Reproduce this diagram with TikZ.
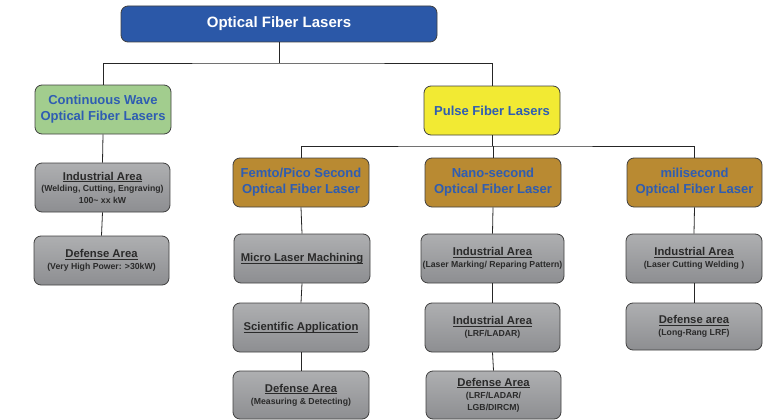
\documentclass[tikz,border=0pt]{standalone}
\usepackage{fontspec}
\setmainfont{Liberation Sans}
\definecolor{topblue}{HTML}{2B58A8}
\definecolor{cwgreen}{HTML}{A2CD8E}
\definecolor{pyellow}{HTML}{F2EA33}
\definecolor{gold}{HTML}{B98A32}
\definecolor{txtblue}{HTML}{2F5DB2}
\definecolor{edge}{HTML}{404040}
\definecolor{graytop}{HTML}{AEAFB1}
\definecolor{graybot}{HTML}{8D8E91}
\definecolor{graytxt}{HTML}{2A2A2A}
\newcommand\ulttl[1]{\leavevmode\setbox0\hbox{#1}\rlap{\copy0}\raisebox{-2.2pt}{\rule{\wd0}{0.9pt}}}
\newcommand\boxttl[1]{{\fontsize{11.3}{13}\selectfont\ulttl{#1}}}
\newcommand\boxsub[1]{{\fontsize{8.7}{10}\selectfont #1}}
\begin{document}
\begin{tikzpicture}[x=1pt,y=-1pt,
  base/.style={draw=edge, line width=0.8pt, rounded corners=7pt, inner sep=0pt, align=center, font=\bfseries},
  topbox/.style={base, fill=topblue, text=white, font=\bfseries\fontsize{15}{18}\selectfont},
  cwbox/.style={base, fill=cwgreen, text=txtblue, font=\bfseries\fontsize{13}{16}\selectfont},
  pbox/.style={base, fill=pyellow, text=txtblue, font=\bfseries\fontsize{13}{16}\selectfont},
  goldbox/.style={base, fill=gold, text=txtblue, font=\bfseries\fontsize{13}{16}\selectfont},
  graybox/.style={base, top color=graytop, bottom color=graybot, text=graytxt},
  link/.style={draw=black!85, line width=0.8pt}
]
\useasboundingbox (0,0) rectangle (776,420);

\node[topbox, minimum width=316pt, minimum height=36pt] (top) at (279,24) {Optical Fiber Lasers};

\node[cwbox, minimum width=136pt, minimum height=49pt] (cw) at (103,109.5) {Continuous Wave\\Optical Fiber Lasers};
\node[pbox, minimum width=136pt, minimum height=49pt] (pulse) at (492,110.5) {Pulse Fiber Lasers};

\node[graybox, minimum width=135pt, minimum height=49pt] (cwInd) at (102.5,187.5) {\boxttl{Industrial Area}\\[-1pt]\boxsub{(Welding, Cutting, Engraving)}\\\boxsub{100\textasciitilde{} xx kW}};
\node[graybox, minimum width=135pt, minimum height=49pt] (cwDef) at (101.5,260.5) {\boxttl{Defense Area}\\\boxsub{(Very High Power: >30kW)}};

\node[goldbox, minimum width=136pt, minimum height=49pt] (femto) at (301,182.5) {Femto/Pico Second\\Optical Fiber Laser};
\node[graybox, minimum width=136pt, minimum height=49pt] (micro) at (302,258.5) {\boxttl{Micro Laser Machining}};
\node[graybox, minimum width=136pt, minimum height=49pt] (sci) at (301,327.5) {\boxttl{Scientific Application}};
\node[graybox, minimum width=136pt, minimum height=48pt] (fdef) at (301,395) {\boxttl{Defense Area}\\\boxsub{(Measuring \& Detecting)}};

\node[goldbox, minimum width=136pt, minimum height=49pt] (nano) at (493,182.5) {Nano-second\\Optical Fiber Laser};
\node[graybox, minimum width=143pt, minimum height=49pt] (nind1) at (492.5,258.5) {\boxttl{Industrial Area}\\\boxsub{(Laser Marking/ Reparing Pattern)}};
\node[graybox, minimum width=135pt, minimum height=49pt] (nind2) at (492.5,327.5) {\boxttl{Industrial Area}\\\boxsub{(LRF/LADAR)}};
\node[graybox, minimum width=135pt, minimum height=48pt] (ndef) at (493.5,395) {\boxttl{Defense Area}\\\boxsub{(LRF/LADAR/}\\\boxsub{LGB/DIRCM)}};

\node[goldbox, minimum width=135pt, minimum height=49pt] (mili) at (694.5,182.5) {milisecond\\Optical Fiber Laser};
\node[graybox, minimum width=136pt, minimum height=49pt] (mind) at (694,258.5) {\boxttl{Industrial Area}\\\boxsub{(Laser Cutting Welding )}};
\node[graybox, minimum width=136pt, minimum height=47pt] (mdef) at (694,326.5) {\boxttl{Defense area}\\\boxsub{(Long-Rang LRF)}};

\coordinate (b1) at (279,63);
\coordinate (b2) at (493,146);

\draw[link] (top.south) -- (b1);
\draw[link] (cw.north) |- (b1) -| (pulse.north);
\draw[link] (pulse.south) -- (pulse.south |- b2);
\draw[link] (femto.north) |- (b2) -| (mili.north);
\draw[link] (b2) -- (nano.north);

\draw[link] (cw.south) -- (cwInd.north);
\draw[link] (cwInd.south) -- (cwDef.north);

\draw[link] (femto.south) -- (micro.north);
\draw[link] (micro.south) -- (sci.north);
\draw[link] (sci.south) -- (fdef.north);

\draw[link] (nano.south) -- (nind1.north);
\draw[link] (nind1.south) -- (nind2.north);
\draw[link] (nind2.south) -- (ndef.north);

\draw[link] (mili.south) -- (mind.north);
\draw[link] (mind.south) -- (mdef.north);
\end{tikzpicture}
\end{document}
